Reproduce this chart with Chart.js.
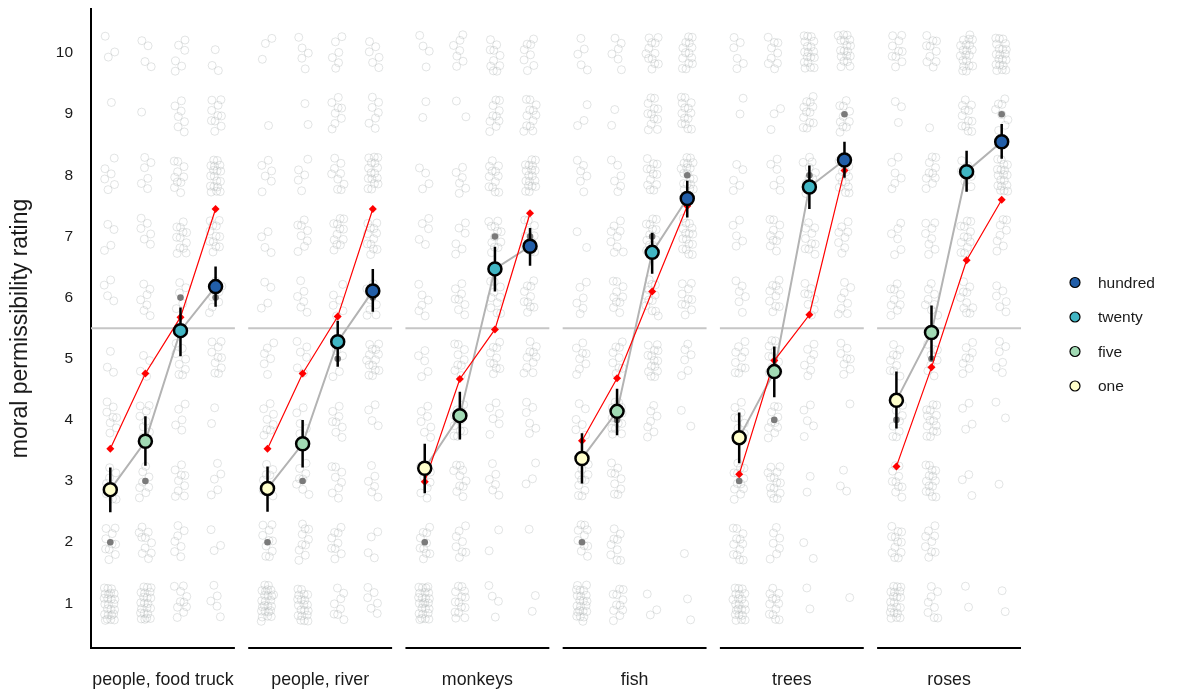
<!DOCTYPE html>
<html>
<head>
<meta charset="utf-8">
<script src="https://cdn.jsdelivr.net/npm/chart.js@4.4.1/dist/chart.umd.min.js"></script>
<style>
  html, body { margin: 0; padding: 0; background: #ffffff; }
  #wrap { width: 1177px; height: 693px; }
</style>
</head>
<body>
<div id="wrap"><canvas id="c" width="1177" height="693"></canvas></div>
<script>
// ---- data -------------------------------------------------------------
const FACETS = ['people, food truck', 'people, river', 'monkeys', 'fish', 'trees', 'roses'];
const LEVELS = ['one', 'five', 'twenty', 'hundred'];
const LEVEL_COLORS = ['#ffffcc', '#a1dab4', '#41b6c4', '#225ea8'];
const Y_TICKS = [1, 2, 3, 4, 5, 6, 7, 8, 9, 10];
const MIDPOINT = 5.5;

// mean rating per facet, one array per quantity level
const MEAN_ONE     = [2.86, 2.88, 3.21, 3.37, 3.71, 4.32];
const MEAN_FIVE    = [3.65, 3.61, 4.07, 4.14, 4.79, 5.43];
const MEAN_TWENTY  = [5.46, 5.28, 6.47, 6.74, 7.81, 8.06];
const MEAN_HUNDRED = [6.18, 6.11, 6.84, 7.62, 8.25, 8.55];

// interval bounds around each mean
const LO_ONE     = [2.49, 2.50, 2.80, 2.96, 3.29, 3.86];
const HI_ONE     = [3.22, 3.24, 3.61, 3.78, 4.12, 4.79];
const LO_FIVE    = [3.25, 3.22, 3.68, 3.75, 4.37, 4.97];
const HI_FIVE    = [4.06, 4.00, 4.46, 4.51, 5.20, 5.87];
const LO_TWENTY  = [5.04, 4.87, 6.10, 6.39, 7.45, 7.73];
const HI_TWENTY  = [5.84, 5.62, 6.83, 7.06, 8.16, 8.40];
const LO_HUNDRED = [5.85, 5.77, 6.52, 7.31, 7.96, 8.27];
const HI_HUNDRED = [6.51, 6.47, 7.14, 7.91, 8.55, 8.84];

// medians
const MEDIAN_ONE     = [2, 2, 2, 2, 3, 4];
const MEDIAN_FIVE    = [3, 3, 4, 4, 4, 5];
const MEDIAN_TWENTY  = [6, 5, 7, 7, 8, 8];
const MEDIAN_HUNDRED = [6, 6, 7, 8, 9, 9];

// model predictions (red)
const MODEL_ONE     = [3.53, 3.53, 2.99, 3.66, 3.11, 3.24];
const MODEL_FIVE    = [4.76, 4.76, 4.67, 4.68, 4.97, 4.86];
const MODEL_TWENTY  = [5.68, 5.69, 5.48, 6.10, 5.72, 6.61];
const MODEL_HUNDRED = [7.45, 7.45, 7.38, 7.50, 8.08, 7.60];

// individual responses: counts at rating 1..10, per level (one, five, twenty, hundred)
const COUNTS_FOOD_TRUCK = [
  [25, 10, 8, 8, 3, 4, 4, 6, 1, 3],
  [22, 10, 8, 8, 4, 7, 6, 6, 1, 4],
  [10, 7, 9, 5, 8, 5, 12, 10, 7, 6],
  [5, 3, 5, 2, 10, 8, 12, 18, 10, 3]
];
const COUNTS_RIVER = [
  [25, 10, 8, 8, 6, 4, 4, 6, 1, 3],
  [20, 10, 8, 5, 6, 6, 8, 5, 2, 5],
  [8, 9, 8, 8, 4, 6, 12, 9, 8, 6],
  [6, 4, 6, 4, 14, 8, 12, 16, 7, 6]
];
const COUNTS_MONKEYS = [
  [25, 10, 8, 7, 5, 6, 5, 4, 2, 4],
  [14, 8, 10, 12, 9, 8, 6, 6, 2, 7],
  [4, 2, 6, 6, 10, 10, 12, 12, 10, 10],
  [2, 1, 3, 6, 10, 10, 10, 18, 12, 8]
];
const COUNTS_FISH = [
  [22, 10, 10, 6, 8, 6, 2, 6, 3, 5],
  [11, 9, 9, 14, 9, 10, 9, 6, 2, 6],
  [3, 0, 0, 7, 14, 12, 12, 12, 12, 12],
  [2, 1, 0, 2, 6, 10, 16, 18, 14, 14]
];
const COUNTS_TREES = [
  [22, 12, 12, 8, 10, 6, 5, 5, 2, 6],
  [12, 7, 14, 10, 10, 10, 10, 6, 3, 9],
  [2, 2, 2, 5, 7, 8, 10, 10, 12, 18],
  [1, 0, 3, 1, 8, 8, 8, 14, 10, 18]
];
const COUNTS_ROSES = [
  [20, 12, 10, 8, 9, 9, 6, 6, 3, 10],
  [8, 9, 14, 14, 8, 8, 8, 10, 1, 10],
  [2, 0, 3, 4, 8, 10, 12, 6, 12, 20],
  [2, 0, 1, 2, 6, 6, 8, 18, 8, 20]
];

// ---- layout of the faceted x axis ------------------------------------
const EXPAND = 0.55;                 // space between facet edge and outer level
const GAP = 0.38;                    // space between facets
const FACET_STEP = 3 + 2 * EXPAND + GAP;
const xOf = (f, j) => f * FACET_STEP + j;
const facetLeft = f => xOf(f, 0) - EXPAND;
const facetRight = f => xOf(f, 3) + EXPAND;

const MEANS = [MEAN_ONE, MEAN_FIVE, MEAN_TWENTY, MEAN_HUNDRED];
const LOWS = [LO_ONE, LO_FIVE, LO_TWENTY, LO_HUNDRED];
const HIGHS = [HI_ONE, HI_FIVE, HI_TWENTY, HI_HUNDRED];
const MEDIANS = [MEDIAN_ONE, MEDIAN_FIVE, MEDIAN_TWENTY, MEDIAN_HUNDRED];
const MODELS = [MODEL_ONE, MODEL_FIVE, MODEL_TWENTY, MODEL_HUNDRED];
const COUNTS = [COUNTS_FOOD_TRUCK, COUNTS_RIVER, COUNTS_MONKEYS, COUNTS_FISH, COUNTS_TREES, COUNTS_ROSES];

// jittered response points (evenly scattered offsets around each rating)
const A1 = 0.7548776662466927, A2 = 0.5698402909980532;
const responsePts = [];
let seq = 0;
COUNTS.forEach((facetCounts, f) => {
  facetCounts.forEach((counts, j) => {
    counts.forEach((c, k) => {
      for (let m = 0; m < c; m++) {
        seq++;
        const u = (0.5 + A1 * seq) % 1;
        const v = (0.5 + A2 * seq) % 1;
        responsePts.push({ x: xOf(f, j) + (u - 0.5) * 0.36, y: Y_TICKS[k] + (v - 0.5) * 0.6 });
      }
    });
  });
});

// broken polylines: one piece per facet
const midLine = [], meanLine = [], modelLine = [], bars = [], medianPts = [];
FACETS.forEach((_, f) => {
  midLine.push({ x: facetLeft(f), y: MIDPOINT }, { x: facetRight(f), y: MIDPOINT }, { x: facetRight(f), y: null });
  LEVELS.forEach((_, j) => {
    meanLine.push({ x: xOf(f, j), y: MEANS[j][f] });
    modelLine.push({ x: xOf(f, j), y: MODELS[j][f] });
    bars.push({ x: xOf(f, j), y: LOWS[j][f] }, { x: xOf(f, j), y: HIGHS[j][f] }, { x: xOf(f, j), y: null });
    medianPts.push({ x: xOf(f, j), y: MEDIANS[j][f] });
  });
  meanLine.push({ x: xOf(f, 3), y: null });
  modelLine.push({ x: xOf(f, 3), y: null });
});

const datasets = [];
LEVELS.forEach((name, j) => {
  datasets.push({
    label: name,
    data: FACETS.map((_, f) => ({ x: xOf(f, j), y: MEANS[j][f] })),
    pointRadius: 6.5,
    pointBorderWidth: 2.5,
    pointBackgroundColor: LEVEL_COLORS[j],
    pointBorderColor: '#000000',
    showLine: false,
    order: 0
  });
});
datasets.push({
  label: 'interval', data: bars, showLine: true, spanGaps: false,
  borderColor: '#000000', borderWidth: 2.5, pointRadius: 0, order: 1
});
datasets.push({
  label: 'model', data: modelLine, showLine: true, spanGaps: false,
  borderColor: '#ff0000', borderWidth: 1.2, pointStyle: 'rectRot',
  pointRadius: 4, pointBackgroundColor: '#ff0000', pointBorderColor: '#ff0000', pointBorderWidth: 0,
  order: 2
});
datasets.push({
  label: 'mean path', data: meanLine, showLine: true, spanGaps: false,
  borderColor: '#b3b3b3', borderWidth: 2, pointRadius: 0, order: 3
});
datasets.push({
  label: 'median', data: medianPts, showLine: false,
  pointRadius: 3.3, pointBackgroundColor: '#7a7a7a', pointBorderWidth: 0, order: 4
});
datasets.push({
  label: 'midpoint', data: midLine, showLine: true, spanGaps: false,
  borderColor: '#c6c6c6', borderWidth: 2, pointRadius: 0, order: 5
});
datasets.push({
  label: 'responses', data: responsePts, showLine: false,
  pointRadius: 4, pointBorderWidth: 1, pointBackgroundColor: 'rgba(0,0,0,0)',
  pointBorderColor: 'rgba(180,183,185,0.38)', order: 6
});

// facet baselines and the legend
const facetPlugin = {
  id: 'facets',
  afterDraw(chart) {
    const ctx = chart.ctx, xs = chart.scales.x, area = chart.chartArea;
    ctx.save();
    ctx.strokeStyle = '#000000';
    ctx.lineWidth = 2;
    FACETS.forEach((_, f) => {
      ctx.beginPath();
      ctx.moveTo(xs.getPixelForValue(facetLeft(f)), area.bottom);
      ctx.lineTo(xs.getPixelForValue(facetRight(f)), area.bottom);
      ctx.stroke();
    });
    // legend, highest level first
    const lx = area.right + 54, ly = (area.top + area.bottom) / 2 - 46, step = 34.5;
    ctx.font = '15.5px "Liberation Sans", Arial, sans-serif';
    ctx.textBaseline = 'middle';
    ctx.textAlign = 'left';
    for (let i = 0; i < 4; i++) {
      const j = 3 - i, y = ly + i * step;
      ctx.beginPath();
      ctx.arc(lx, y, 5, 0, Math.PI * 2);
      ctx.fillStyle = LEVEL_COLORS[j];
      ctx.fill();
      ctx.lineWidth = 1.2;
      ctx.strokeStyle = '#000000';
      ctx.stroke();
      ctx.fillStyle = '#1a1a1a';
      ctx.fillText(LEVELS[j], lx + 23, y + 1);
    }
    ctx.restore();
  }
};

new Chart(document.getElementById('c'), {
  type: 'scatter',
  data: { datasets },
  options: {
    responsive: false,
    animation: false,
    devicePixelRatio: 1,
    layout: { padding: { top: 8, right: 156, left: 0, bottom: 0 } },
    plugins: { legend: { display: false }, tooltip: { enabled: false } },
    scales: {
      x: {
        type: 'linear',
        min: facetLeft(0),
        max: facetRight(FACETS.length - 1),
        grid: { display: false },
        border: { display: false },
        afterBuildTicks(scale) { scale.ticks = FACETS.map((_, f) => ({ value: xOf(f, 1.5) })); },
        afterFit(scale) { scale.height = 45; scale.paddingLeft = 0; scale.paddingRight = 0; },
        ticks: {
          autoSkip: false, maxRotation: 0, padding: 13,
          color: '#1a1a1a',
          font: { family: '"Liberation Sans", Arial, sans-serif', size: 17.8 },
          callback: (v, i) => FACETS[i]
        }
      },
      y: {
        type: 'linear',
        min: 0.27,
        max: 10.72,
        grid: { display: false },
        border: { display: true, color: '#000000', width: 2 },
        afterBuildTicks(scale) { scale.ticks = Y_TICKS.map(v => ({ value: v })); },
        afterFit(scale) { scale.width = 91; scale.paddingTop = 0; scale.paddingBottom = 0; },
        ticks: {
          padding: 10,
          color: '#1a1a1a',
          font: { family: '"Liberation Sans", Arial, sans-serif', size: 15.5 }
        },
        title: {
          display: true,
          text: 'moral permissibility rating',
          color: '#1a1a1a',
          padding: { top: 7, bottom: 0 },
          font: { family: '"Liberation Sans", Arial, sans-serif', size: 23 }
        }
      }
    }
  },
  plugins: [facetPlugin]
});
</script>
</body>
</html>
